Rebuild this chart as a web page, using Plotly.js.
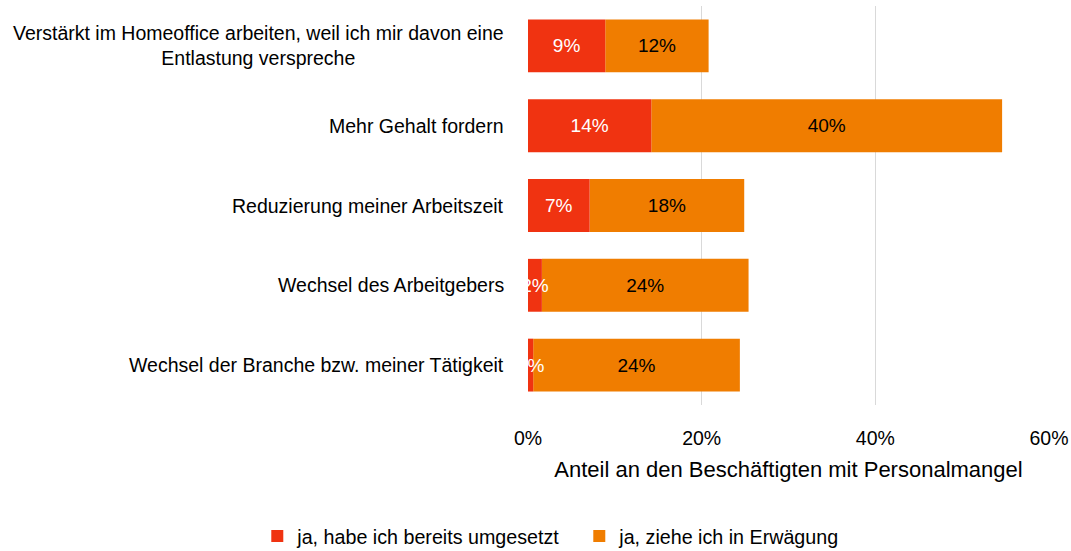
<!DOCTYPE html>
<html>
<head>
<meta charset="utf-8">
<script src="https://cdn.plot.ly/plotly-3.0.1.min.js"></script>
<style>html,body{margin:0;padding:0;background:#fff;}#chart{width:1071px;height:551px;}</style>
</head>
<body>
<div id="chart"></div>
<script>
const categories = [
  "Verstärkt im Homeoffice arbeiten, weil ich mir davon eine<br>Entlastung verspreche",
  "Mehr Gehalt fordern",
  "Reduzierung meiner Arbeitszeit",
  "Wechsel des Arbeitgebers",
  "Wechsel der Branche bzw. meiner Tätigkeit"
];
const umgesetzt = [8.9, 14.2, 7.1, 1.6, 0.6];
const umgesetztLabels = ["9%", "14%", "7%", "2%", "1%"];
const erwaegung = [11.9, 40.4, 17.8, 23.8, 23.8];
const erwaegungLabels = ["12%", "40%", "18%", "24%", "24%"];
const seriesNames = ["ja, habe ich bereits umgesetzt", "ja, ziehe ich in Erwägung"];
const xTicks = [0, 20, 40, 60];
const xTickLabels = ["0%", "20%", "40%", "60%"];
const xTitle = "Anteil an den Beschäftigten mit Personalmangel";

const FONT = "Liberation Sans, Arial, sans-serif";
const RED = "#F03311";
const ORANGE = "#F07D00";

// Orange segment drawn first (stacked on top of red via base), red drawn last so its labels stay visible
const traces = [
  {
    type: "bar", orientation: "h", name: seriesNames[1], legendrank: 2,
    y: categories, x: erwaegung, base: umgesetzt, text: erwaegungLabels,
    textposition: "inside", insidetextanchor: "middle", constraintext: "none", textangle: 0,
    textfont: {family: FONT, size: 19, color: "#000000"},
    marker: {color: ORANGE},
    hoverinfo: "none", cliponaxis: false
  },
  {
    type: "bar", orientation: "h", name: seriesNames[0], legendrank: 1,
    y: categories, x: umgesetzt, text: umgesetztLabels,
    textposition: "inside", insidetextanchor: "middle", constraintext: "none", textangle: 0,
    textfont: {family: FONT, size: 19, color: "#ffffff"},
    marker: {color: RED},
    hoverinfo: "none", cliponaxis: false
  }
];

const annotations = categories.map(c => ({
  xref: "paper", yref: "y", x: 0, y: c, xanchor: "right", yanchor: "middle",
  xshift: -22, text: c, showarrow: false, align: "center",
  font: {family: FONT, size: 19.5, color: "#000000"}
}));

const layout = {
  width: 1071, height: 551,
  margin: {l: 528, r: 22, t: 5.5, b: 145.5, pad: 0, autoexpand: false},
  paper_bgcolor: "#ffffff", plot_bgcolor: "#ffffff",
  barmode: "overlay", bargap: 0.3375,
  font: {family: FONT, color: "#000000"},
  showlegend: true,
  legend: {
    orientation: "h", xref: "paper", yref: "paper",
    x: -0.5196, xanchor: "left", y: -0.329, yanchor: "middle",
    font: {family: FONT, size: 19.7, color: "#000000"},
    entrywidth: 277, entrywidthmode: "pixels",
    traceorder: "normal", bgcolor: "rgba(0,0,0,0)"
  },
  xaxis: {
    range: [0, 60], tickvals: xTicks, ticktext: xTickLabels,
    showgrid: true, gridcolor: "#D9D9D9", gridwidth: 1.5,
    zeroline: false, showline: false, ticks: "",
    ticklabelstandoff: 19, automargin: false,
    tickfont: {family: FONT, size: 19.5, color: "#000000"},
    title: {text: xTitle, font: {family: FONT, size: 22, color: "#000000"}, standoff: 14},
    fixedrange: true
  },
  yaxis: {
    autorange: "reversed", showticklabels: false, showgrid: false, automargin: false,
    zeroline: false, showline: false, ticks: "", fixedrange: true
  },
  annotations: annotations
};

Plotly.newPlot("chart", traces, layout, {displayModeBar: false, staticPlot: true});
</script>
</body>
</html>
